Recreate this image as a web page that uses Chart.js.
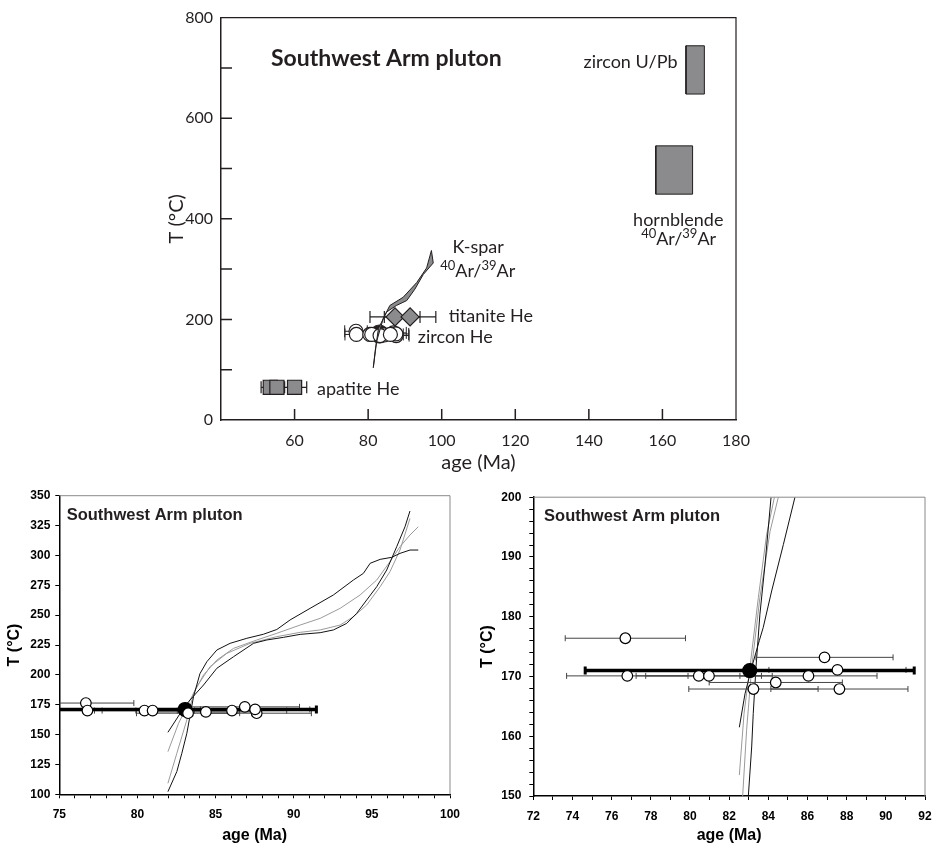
<!DOCTYPE html>
<html>
<head>
<meta charset="utf-8">
<script src="https://cdn.jsdelivr.net/npm/chart.js@4.4.1/dist/chart.umd.min.js"></script>
<style>
  html, body { margin: 0; padding: 0; background: #fff; }
  body { position: relative; width: 943px; height: 849px; overflow: hidden; }
  .panel { position: absolute; }
  #overview { left: 0; top: 0; width: 943px; height: 482px; }
  #wide { left: 0; top: 482px; width: 470px; height: 367px; }
  #close { left: 470px; top: 482px; width: 473px; height: 367px; }
</style>
</head>
<body>
<div class="panel" id="overview"><canvas id="overviewChart"></canvas></div>
<div class="panel" id="wide"><canvas id="wideChart"></canvas></div>
<div class="panel" id="close"><canvas id="closeChart"></canvas></div>
<script>
// zircon (U-Th)/He single grains: age (Ma), T (°C), 1-sigma age error
const zirconAge = [76.7, 76.8, 80.45, 80.97, 84.38, 83.24, 87.63, 86.87, 87.53, 86.05];
const zirconT   = [176.4, 170.1, 170.1, 170.1, 169.0, 167.9, 167.9, 173.2, 171.1, 170.1];
const zirconErr = [3.07, 3.1, 3.2, 3.23, 3.4, 3.3, 3.5, 3.5, 3.5, 3.5];
// weighted mean zircon He age
const meanAge = [83.05];
const meanT   = [171];
const meanErr = [8.4];

const apatiteAge = [53.4, 55.2, 60.0];
const apatiteT   = [65, 65, 65];
const apatiteErr = [2.5, 2.1, 3.3];

const titaniteAge = [87.3, 91.4];
const titaniteT   = [205, 205];
const titaniteErr = [6.8, 7.0];

// age and temperature ranges
const zirconUPbAge  = [166.4, 171.4];
const zirconUPbT    = [648, 744];
const hornblendeAge = [158.2, 168.2];
const hornblendeT   = [449, 545];

// K-feldspar 40Ar/39Ar envelope (outline, anticlockwise)
const ksparBandAge = [81.4, 82.3, 84.1, 85.9, 89.5, 93.2, 95.9, 97.2, 97.7, 95.0, 92.7, 90.5, 87.7, 85.0, 82.8, 81.9, 81.4];
const ksparBandT   = [104, 156, 201.6, 227.7, 243.9, 273.2, 302.4, 337, 312.2, 289.4, 260.1, 237.5, 227.7, 214.6, 182, 136.6, 104];

// MDD cooling histories, 75-100 Ma view
const histUpperAge = [81.95, 82.52, 82.84, 83.16, 83.59, 84.0, 84.44, 85.08, 85.93, 87.0, 88.06, 88.92, 89.77, 91.05, 92.54, 93.82, 94.46, 94.89, 95.53, 96.27, 96.8, 97.44, 97.97];
const histUpperT   = [102.2, 119, 134.3, 151, 181.8, 201, 211, 220.8, 226.4, 230.6, 234, 238, 246, 255.7, 266.9, 279.4, 285, 293.4, 296.7, 298.4, 301.7, 304.5, 304.5];
const histLowerAge = [81.95, 82.74, 83.27, 84.23, 85.08, 86.15, 87.43, 88.28, 89.34, 90.41, 91.69, 92.54, 93.39, 94.03, 94.67, 95.31, 95.95, 96.59, 97.12, 97.44];
const histLowerT   = [151.9, 167.8, 177.6, 191.5, 205.5, 215.2, 226.4, 229.2, 231.4, 233.9, 235.3, 237.6, 243.1, 251.5, 262.7, 273.8, 287.8, 307.3, 324, 337.2];
const histGrayAAge = [81.95, 82.52, 83.16, 83.59, 84.23, 85.08, 86.15, 87.64, 88.92, 90.41, 91.69, 92.97, 94.25, 95.31, 96.16, 96.8, 97.44, 97.97];
const histGrayAT   = [109.2, 134.3, 162.2, 184.5, 199.9, 212.4, 222.2, 229.2, 234.8, 241.7, 247.3, 255.7, 266.9, 279.4, 294.8, 307.3, 317.1, 324];
const histGrayBAge = [81.95, 82.63, 83.16, 83.8, 84.65, 85.72, 87.21, 88.92, 90.41, 91.69, 92.97, 93.82, 94.67, 95.53, 96.16, 96.8, 97.44];
const histGrayBT   = [135.7, 159.4, 173.4, 190.1, 206.9, 218, 226.4, 232, 235.6, 237.6, 241.7, 248.7, 258.5, 273.8, 286.4, 304.5, 331];

// same histories, 150-200 °C detail
const closeBlackAAge = [82.98, 83.15, 83.23, 83.37, 83.57, 83.83, 84.14];
const closeBlackAT   = [150, 158.2, 163.8, 171.5, 180.4, 188.7, 200];
const closeGrayAAge  = [82.69, 82.89, 83.15, 83.57, 84.09, 84.51];
const closeGrayAT    = [150, 161, 171.5, 183.2, 194.3, 200];
const closeGrayBAge  = [82.52, 82.76, 83.06, 83.49, 83.91, 84.31];
const closeGrayBT    = [153.5, 163.8, 171.5, 183.2, 193.7, 200];
const closeBlackBAge = [82.52, 82.81, 83.15, 83.54, 83.74, 84.17, 84.77, 85.36];
const closeBlackBT   = [161.5, 167.1, 171.5, 176, 178.2, 184.3, 192.1, 200];

// tick labels
const overviewAgeLabels = [60, 80, 100, 120, 140, 160, 180];
const overviewTLabels   = [0, 200, 400, 600, 800];
const wideAgeLabels     = [75, 80, 85, 90, 95, 100];
const wideTLabels       = [100, 125, 150, 175, 200, 225, 250, 275, 300, 325, 350];
const closeAgeLabels    = [72, 74, 76, 78, 80, 82, 84, 86, 88, 90, 92];
const closeTLabels      = [150, 160, 170, 180, 190, 200];

const INK = '#231f20';
const GREY_FILL = '#8b8b8d';

const pts = (xs, ys) => xs.map((x, i) => ({ x, y: ys[i] }));

function line(xs, ys, color, width, order) {
  return { data: pts(xs, ys), showLine: true, borderColor: color, borderWidth: width,
           pointRadius: 0, tension: 0, fill: false, order };
}

function polygon(xs, ys, order) {
  return { data: pts(xs, ys), showLine: true, borderColor: INK, borderWidth: 1,
           backgroundColor: GREY_FILL, fill: 'shape', pointRadius: 0, tension: 0, order };
}

function box(ageRange, tRange, order) {
  const [a0, a1] = ageRange, [t0, t1] = tRange;
  return polygon([a0, a1, a1, a0, a0], [t0, t0, t1, t1, t0], order);
}

function errorBars(ages, temps, errs, color, width, cap, order) {
  return ages.map((a, i) => ({
    data: [{ x: a - errs[i], y: temps[i] }, { x: a + errs[i], y: temps[i] }],
    showLine: true, borderColor: color, borderWidth: width, fill: false,
    pointStyle: 'line', pointRotation: 90, pointRadius: cap,
    pointBorderColor: color, pointBorderWidth: Math.min(width, 3), order
  }));
}

function markers(ages, temps, style, radius, fill, edge, order) {
  return { data: pts(ages, temps), showLine: false, pointStyle: style, pointRadius: radius,
           pointBackgroundColor: fill, pointBorderColor: edge, pointBorderWidth: 1.2, order };
}

// top and right edges of the plot box
const frame = {
  id: 'frame',
  afterDraw(chart, args, opts) {
    const { ctx, chartArea: a } = chart;
    ctx.save();
    ctx.strokeStyle = opts.color;
    ctx.lineWidth = opts.width;
    ctx.beginPath();
    ctx.moveTo(a.left, a.top);
    ctx.lineTo(a.right, a.top);
    ctx.lineTo(a.right, a.bottom);
    ctx.stroke();
    ctx.restore();
  }
};

// tick marks pointing into the plot
const innerTicks = {
  id: 'innerTicks',
  afterDraw(chart, args, opts) {
    if (!opts.length) return;
    const { ctx, chartArea: a, scales: { x, y } } = chart;
    ctx.save();
    ctx.strokeStyle = INK;
    ctx.lineWidth = 1.5;
    ctx.beginPath();
    y.ticks.forEach(t => {
      if (t.value <= y.min || t.value >= y.max) return;
      const py = y.getPixelForValue(t.value);
      ctx.moveTo(a.left, py);
      ctx.lineTo(a.left + opts.length, py);
    });
    x.ticks.forEach(t => {
      if (t.value <= x.min || t.value >= x.max) return;
      const px = x.getPixelForValue(t.value);
      ctx.moveTo(px, a.bottom);
      ctx.lineTo(px, a.bottom - opts.length);
    });
    ctx.stroke();
    ctx.restore();
  }
};

// text placed at age / temperature positions, with optional superscripts
const notes = {
  id: 'notes',
  afterDraw(chart, args, opts) {
    const { ctx, scales: { x, y } } = chart;
    ctx.save();
    ctx.fillStyle = INK;
    ctx.textBaseline = 'middle';
    ctx.textAlign = 'left';
    for (const item of opts.items || []) {
      const px = x.getPixelForValue(item.age);
      const py = y.getPixelForValue(item.T);
      const parts = item.parts || [{ t: item.text }];
      const size = item.size;
      const fontFor = p => `${item.weight || 'normal'} ${p.sup ? Math.round(size * 0.7) : size}px ${item.family}`;
      let width = 0;
      parts.forEach(p => { ctx.font = fontFor(p); width += ctx.measureText(p.t).width; });
      let cx = item.align === 'right' ? px - width : item.align === 'center' ? px - width / 2 : px;
      parts.forEach(p => {
        ctx.font = fontFor(p);
        ctx.fillText(p.t, cx, p.sup ? py - size * 0.3 : py);
        cx += ctx.measureText(p.t).width;
      });
    }
    ctx.restore();
  }
};

Chart.register(frame, innerTicks, notes);

const argon = [{ t: '40', sup: true }, { t: 'Ar/' }, { t: '39', sup: true }, { t: 'Ar' }];
const lato = (text, age, T, align, extra) => Object.assign({ text, age, T, align, family: 'Lato', size: 18 }, extra);
const arial = { family: '"Liberation Sans", Arial, sans-serif' };

function baseOptions(padding) {
  return {
    responsive: true,
    maintainAspectRatio: false,
    animation: false,
    events: [],
    layout: { padding },
    plugins: {
      legend: { display: false },
      tooltip: { enabled: false },
      filler: { drawTime: 'beforeDatasetDraw' }
    }
  };
}

// ---- summary of thermochronometers, 40-180 Ma ----
const overviewSets = [
  box(zirconUPbAge, zirconUPbT, 20),
  box(hornblendeAge, hornblendeT, 20),
  ...errorBars(apatiteAge, apatiteT, apatiteErr, INK, 1.2, 6, 12),
  markers(apatiteAge, apatiteT, 'rect', 10, GREY_FILL, INK, 11),
  markers(meanAge, meanT, 'circle', 9, INK, INK, 10),
  ...errorBars(zirconAge, zirconT, zirconErr, INK, 1, 6, 9),
  markers(zirconAge, zirconT, 'circle', 7, '#ffffff', INK, 8),
  ...errorBars(titaniteAge, titaniteT, titaniteErr, INK, 1.2, 6, 7),
  polygon(ksparBandAge, ksparBandT, 6),
  markers(titaniteAge, titaniteT, 'rectRot', 9, GREY_FILL, INK, 5)
];

const overviewOptions = baseOptions({ left: 155, right: 207, top: 10, bottom: 0 });
Object.assign(overviewOptions.plugins, {
  frame: { color: INK, width: 1.2 },
  innerTicks: { length: 11 },
  notes: { items: [
    lato('Southwest Arm pluton', 53.6, 718, 'left', { weight: 'bold', size: 23 }),
    lato('zircon U/Pb', 164.1, 712, 'right'),
    lato('hornblende', 164.3, 398, 'center'),
    lato('', 164.4, 359, 'center', { parts: argon }),
    lato('K-spar', 109.9, 343, 'center'),
    lato('', 109.8, 296.6, 'center', { parts: argon }),
    lato('titanite He', 101.9, 206.8, 'left'),
    lato('zircon He', 93.5, 164, 'left'),
    lato('apatite He', 66.1, 60.5, 'left')
  ] }
});
overviewOptions.scales = {
  x: {
    type: 'linear', min: 40, max: 180,
    afterFit: s => { s.height = 62; },
    grid: { display: false, drawTicks: false },
    border: { display: true, color: INK, width: 1.5 },
    ticks: { stepSize: 20, autoSkip: false, maxRotation: 0, padding: 11, color: INK,
             font: { family: 'Lato', size: 16 },
             callback: v => overviewAgeLabels.includes(v) ? String(v) : '' },
    title: { display: true, text: 'age (Ma)', color: INK, font: { family: 'Lato', size: 20 },
             padding: { top: 0, bottom: 7 } }
  },
  y: {
    type: 'linear', min: 0, max: 800,
    afterFit: s => { s.width = 66; },
    grid: { display: false, drawTicks: false },
    border: { display: true, color: INK, width: 1.5 },
    ticks: { stepSize: 100, autoSkip: false, padding: 8, color: INK,
             font: { family: 'Lato', size: 16 },
             callback: v => overviewTLabels.includes(v) ? String(v) : '' },
    title: { display: true, text: 'T (°C)', color: INK, font: { family: 'Lato', size: 20 },
             padding: { top: 10, bottom: 0 } }
  }
};

new Chart(document.getElementById('overviewChart'), {
  type: 'scatter',
  data: { datasets: overviewSets },
  options: overviewOptions
});

// ---- bottom panels: zircon He data with cooling histories ----
function panelScales(xr, yr, xLabels, yLabels, yWidth, xHeight, yTitlePad, yTickPad) {
  const tickFont = Object.assign({ size: 12, weight: 'bold' }, arial);
  const titleFont = Object.assign({ size: 16, weight: 'bold' }, arial);
  const grid = { display: true, drawOnChartArea: false, drawTicks: true, tickLength: 4,
                 tickColor: '#000', tickWidth: 1 };
  return {
    x: {
      type: 'linear', min: xr[0], max: xr[1],
      afterFit: s => { s.height = xHeight; },
      grid, border: { display: true, color: '#000', width: 1.5 },
      ticks: { stepSize: 1, autoSkip: false, maxRotation: 0, padding: 9, color: '#000', font: tickFont,
               callback: v => xLabels.includes(v) ? String(v) : '' },
      title: { display: true, text: 'age (Ma)', color: '#000', font: titleFont, padding: { top: 0, bottom: 4 } }
    },
    y: {
      type: 'linear', min: yr[0], max: yr[1],
      afterFit: s => { s.width = yWidth; },
      grid, border: { display: true, color: '#000', width: 1.5 },
      ticks: { stepSize: yr[2], autoSkip: false, padding: yTickPad, color: '#000', font: tickFont,
               callback: v => yLabels.includes(v) ? String(v) : '' },
      title: { display: true, text: 'T (°C)', color: '#000', font: titleFont, padding: { top: yTitlePad, bottom: 0 } }
    }
  };
}

function zirconSets(curves) {
  return [
    ...curves,
    ...errorBars(zirconAge, zirconT, zirconErr, '#444', 1, 3, 9),
    ...errorBars(meanAge, meanT, meanErr, '#000', 3.5, 4, 8),
    markers(meanAge, meanT, 'circle', 7, '#000', '#000', 7),
    markers(zirconAge, zirconT, 'circle', 5.3, '#ffffff', '#000', 6)
  ];
}

const panelTitle = (age, T) => Object.assign(
  { text: 'Southwest Arm pluton', age, T, align: 'left', size: 16.5, weight: 'bold' }, arial);

const wideOptions = baseOptions({ left: 0, right: 20, top: 13.7, bottom: 0 });
Object.assign(wideOptions.plugins, {
  frame: { color: '#8a8a8a', width: 1 },
  notes: { items: [panelTitle(75.47, 333.8)] }
});
wideOptions.scales = panelScales([75, 100], [100, 350, 25], wideAgeLabels, wideTLabels, 59.3, 54.7, 5, 5);

new Chart(document.getElementById('wideChart'), {
  type: 'scatter',
  data: { datasets: zirconSets([
    line(histGrayAAge, histGrayAT, '#9a9a9a', 1, 20),
    line(histGrayBAge, histGrayBT, '#9a9a9a', 1, 20),
    line(histUpperAge, histUpperT, '#111', 1, 19),
    line(histLowerAge, histLowerT, '#111', 1, 19)
  ]) },
  options: wideOptions
});

const closeOptions = baseOptions({ left: 0, right: 18, top: 13.7, bottom: 0 });
Object.assign(closeOptions.plugins, {
  frame: { color: '#8a8a8a', width: 1 },
  notes: { items: [panelTitle(72.55, 196.8)] }
});
closeOptions.scales = panelScales([72, 92], [150, 200, 2], closeAgeLabels, closeTLabels, 63.3, 53, 8, 8);

new Chart(document.getElementById('closeChart'), {
  type: 'scatter',
  data: { datasets: zirconSets([
    line(closeGrayAAge, closeGrayAT, '#9a9a9a', 1, 20),
    line(closeGrayBAge, closeGrayBT, '#9a9a9a', 1, 20),
    line(closeBlackAAge, closeBlackAT, '#111', 1, 19),
    line(closeBlackBAge, closeBlackBT, '#111', 1, 19)
  ]) },
  options: closeOptions
});
</script>
</body>
</html>
